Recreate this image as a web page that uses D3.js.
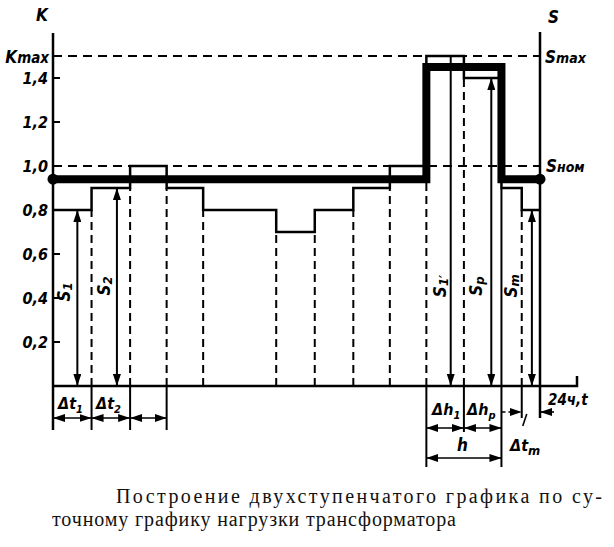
<!DOCTYPE html>
<html><head><meta charset="utf-8">
<script src="https://cdn.jsdelivr.net/npm/d3@7/dist/d3.min.js"></script>
<style>
body{margin:0;background:#fff;}
svg{display:block;}
.lab{font-family:"DejaVu Sans Condensed","DejaVu Sans",sans-serif;font-style:italic;font-weight:bold;fill:#000;}
.cap{font-family:"Liberation Serif","DejaVu Serif",serif;fill:#111;}
</style></head>
<body>
<svg id="c" width="614" height="547"></svg>
<script>
// ---- data ----
const boundaries = [0, 1.9, 3.8, 5.6, 7.4, 11.0, 12.9, 14.8, 16.6, 18.4, 20.25, 22.1, 23.1, 24];
const loadLevels = [0.8, 0.9, 1.0, 0.9, 0.8, 0.7, 0.8, 0.9, 1.0, 1.5, 1.4, 0.9, 0.8];
const equivTimes = [0, 18.4, 22.1, 24];
const equivLevels = [0.94, 1.45, 0.94];
const yTicks = [0.2, 0.4, 0.6, 0.8, 1.0, 1.2, 1.4];
const yTickLabels = ["0,2", "0,4", "0,6", "0,8", "1,0", "1,2", "1,4"];
const kMax = 1.5, kNom = 1.0;
const captionLines = ["Построение двухступенчатого графика по су-", "точному графику нагрузки трансформатора"];

// ---- scales ----
const x = d3.scaleLinear().domain([0, 24]).range([53, 540]);
const y = d3.scaleLinear().domain([0, 1.5]).range([386, 56]);
const svg = d3.select("#c");

// markers
const defs = svg.append("defs");
function marker(id, orient) {
  defs.append("marker").attr("id", id).attr("viewBox", "0 0 12 8")
    .attr("refX", 12).attr("refY", 4).attr("markerWidth", 12).attr("markerHeight", 8)
    .attr("markerUnits", "userSpaceOnUse").attr("orient", orient)
    .append("path").attr("d", "M0,0 L12,4 L0,8 Z").attr("fill", "#000");
}
marker("ah", "auto");
marker("ahs", "auto-start-reverse");

const g = svg.append("g");
const base = y(0);

// horizontal dashed reference lines
[kMax, kNom].forEach(v => {
  g.append("line").attr("x1", x(0)).attr("x2", x(24)).attr("y1", y(v)).attr("y2", y(v))
    .attr("stroke", "#000").attr("stroke-width", 2).attr("stroke-dasharray", "9,6");
});

// vertical lines under step boundaries
boundaries.slice(1, -1).forEach((b, i) => {
  const lo = Math.min(loadLevels[i], loadLevels[i + 1]);
  const solid = (b === 22.1);
  g.append("line").attr("x1", x(b)).attr("x2", x(b)).attr("y1", base).attr("y2", y(lo))
    .attr("stroke", "#000").attr("stroke-width", 2)
    .attr("stroke-dasharray", solid ? null : "8,5");
});

// load step line
const stepPts = boundaries.map((b, i) => [b, loadLevels[Math.min(i, loadLevels.length - 1)]]);
g.append("path").datum(stepPts)
  .attr("d", d3.line().x(d => x(d[0])).y(d => y(d[1])).curve(d3.curveStepAfter))
  .attr("fill", "none").attr("stroke", "#000").attr("stroke-width", 2.5);

// axes
g.append("line").attr("x1", x(0)).attr("x2", x(0)).attr("y1", 33).attr("y2", 430)
  .attr("stroke", "#000").attr("stroke-width", 2.5);
g.append("line").attr("x1", x(24)).attr("x2", x(24)).attr("y1", 32).attr("y2", 418)
  .attr("stroke", "#000").attr("stroke-width", 2.5);
g.append("path").attr("d", `M${x(0)},${base} H577 V376`)
  .attr("fill", "none").attr("stroke", "#000").attr("stroke-width", 2.5);

// y ticks
yTicks.concat([kMax]).forEach(v => {
  g.append("line").attr("x1", x(0)).attr("x2", x(0) + 7).attr("y1", y(v)).attr("y2", y(v))
    .attr("stroke", "#000").attr("stroke-width", 2);
});
yTicks.forEach((v, i) => {
  g.append("text").attr("class", "lab").attr("x", 48).attr("y", y(v) + 6)
    .attr("text-anchor", "end").attr("font-size", 16).text(yTickLabels[i]);
});

// equivalent two-step thick line
const eqPts = [];
equivTimes.forEach((t, i) => eqPts.push([t, equivLevels[Math.min(i, equivLevels.length - 1)]]));
g.append("path").datum(eqPts)
  .attr("d", d3.line().x(d => x(d[0])).y(d => y(d[1])).curve(d3.curveStepAfter))
  .attr("fill", "none").attr("stroke", "#000").attr("stroke-width", 8)
  .attr("stroke-linecap", "round").attr("stroke-linejoin", "miter");
[0, 24].forEach(t => g.append("circle").attr("cx", x(t)).attr("cy", y(equivLevels[0])).attr("r", 5.5).attr("fill", "#000"));

// extension lines below baseline
const ext = [[0, 430], [1.9, 430], [3.8, 430], [5.6, 430], [18.4, 467], [20.25, 432], [22.1, 467], [23.1, 418]];
ext.forEach(([t, y2]) => g.append("line").attr("x1", x(t)).attr("x2", x(t)).attr("y1", base).attr("y2", y2)
  .attr("stroke", "#000").attr("stroke-width", 2));

// dimension arrows
function dim(t1, t2, yy, a1 = true, a2 = true) {
  const l = g.append("line").attr("x1", x(t1)).attr("x2", x(t2)).attr("y1", yy).attr("y2", yy)
    .attr("stroke", "#000").attr("stroke-width", 1.6);
  if (a1) l.attr("marker-start", "url(#ahs)");
  if (a2) l.attr("marker-end", "url(#ah)");
  return l;
}
dim(0, 1.9, 418); dim(1.9, 3.8, 418); dim(3.8, 5.6, 418);
dim(18.4, 20.25, 428); dim(20.25, 22.1, 428);
dim(18.4, 22.1, 458);
dim(22.1, 23.1, 412, false, true).attr("stroke-dasharray", "4,3");
g.append("line").attr("x1", x(24) + 14).attr("x2", x(24)).attr("y1", 412).attr("y2", 412)
  .attr("stroke", "#000").attr("stroke-width", 1.6).attr("marker-end", "url(#ah)");
g.append("line").attr("x1", x(23.1) + 5).attr("x2", x(23.1) + 1).attr("y1", 414).attr("y2", 426)
  .attr("stroke", "#000").attr("stroke-width", 1.6);

// vertical value arrows
function varrow(t, v, top = true, bottom = true) {
  const l = g.append("line").attr("x1", x(t)).attr("x2", x(t)).attr("y1", y(v)).attr("y2", base)
    .attr("stroke", "#000").attr("stroke-width", 2);
  if (top) l.attr("marker-start", "url(#ahs)");
  if (bottom) l.attr("marker-end", "url(#ah)");
}
varrow(1.2, loadLevels[0]);
varrow(3.15, loadLevels[1]);
varrow(19.6, loadLevels[9], false, true);
varrow(21.6, loadLevels[10]);
varrow(23.6, loadLevels[12]);

// text helpers
function lab(xx, yy, main, sub, opts = {}) {
  const t = g.append("text").attr("class", "lab").attr("x", xx).attr("y", yy)
    .attr("font-size", opts.size || 17).attr("text-anchor", opts.anchor || "start");
  if (opts.rot) t.attr("transform", `rotate(-90,${xx},${yy})`);
  t.append("tspan").text(main);
  if (sub) t.append("tspan").attr("font-size", opts.subSize || 13).attr("dy", opts.subDy == null ? 4 : opts.subDy).text(sub);
  return t;
}
lab(36, 21, "K", null, {size: 17});
lab(548, 23, "S", null, {size: 17});
lab(49, 63, "K", "max", {anchor: "end", subDy: 0, subSize: 15});
lab(545, 63, "S", "max", {subDy: 0, subSize: 14});
lab(546, 172, "S", "ном", {subDy: 0, subSize: 14});
lab(70, 292, "S", "1", {rot: true, anchor: "middle", subDy: 2});
lab(110, 286, "S", "2", {rot: true, anchor: "middle", subDy: 2});
lab(446, 286, "S", "1′", {rot: true, anchor: "middle", subDy: 2});
lab(482, 286, "S", "p", {rot: true, anchor: "middle", subDy: 2});
lab(517, 286, "S", "m", {rot: true, anchor: "middle", subDy: 2});

lab(58, 409, "Δt", "1", {size: 16, subSize: 11});
lab(96, 409, "Δt", "2", {size: 16, subSize: 11});
lab(432, 415, "Δh", "1", {size: 16, subSize: 11});
lab(467, 415, "Δh", "p", {size: 16, subSize: 11});
lab(457, 451, "h", null, {size: 17});
lab(510, 451, "Δt", "m", {size: 16, subSize: 13});
lab(548, 405, "24ч,t", null, {size: 15});

// caption
g.append("text").attr("class", "cap").attr("x", 116).attr("y", 503).attr("font-size", 20)
  .attr("textLength", 486).attr("lengthAdjust", "spacing").text(captionLines[0]);
g.append("text").attr("class", "cap").attr("x", 52).attr("y", 526).attr("font-size", 20)
  .attr("textLength", 404).attr("lengthAdjust", "spacing").text(captionLines[1]);
</script>
</body></html>
